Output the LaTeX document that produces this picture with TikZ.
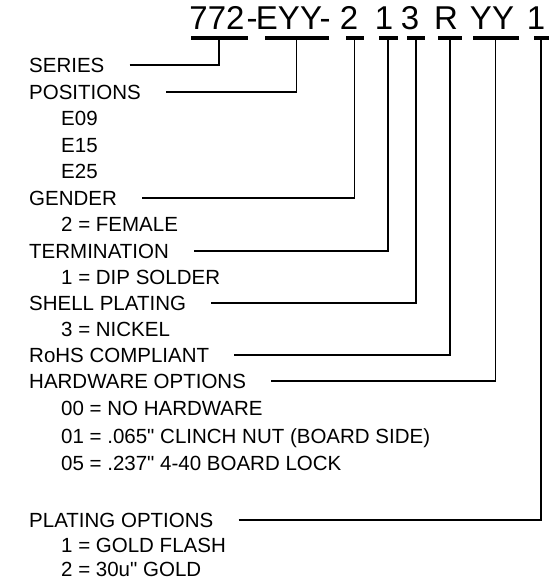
\documentclass[tikz,border=0pt]{standalone}
\usepackage{fontspec}
\newfontfamily\labfont{Liberation Sans}
\begin{document}
\begin{tikzpicture}[x=1pt,y=-1pt,
  lab/.style={anchor=base west,inner sep=0pt,font=\labfont\fontsize{20.5}{24}\selectfont},
  ttl/.style={anchor=base,inner sep=0pt,font=\labfont\fontsize{33}{36}\selectfont},
  bar/.style={fill=black,draw=none,inner sep=0pt,minimum height=4pt},
  conn/.style={line width=1.6pt}]
\useasboundingbox[fill=white] (0,0) rectangle (550,580);
% title
\node[ttl] (t772) at (217,29.5) {772};
\node[ttl] (h1)   at (252,29.5) {-};
\node[ttl] (tEYY) at (289,29.5) {EYY};
\node[ttl] (h2)   at (325,29.5) {-};
\node[ttl] (t2)   at (349,29.5) {2};
\node[ttl] (t1)   at (384,29.5) {1};
\node[ttl] (t3)   at (410,29.5) {3};
\node[ttl] (tR)   at (446,29.5) {R};
\node[ttl] (tYY)  at (492,29.5) {YY};
\node[ttl] (t1b)  at (536,29.5) {1};
% bars
\node[bar,minimum width=57pt] (b772) at (219,38) {};
\node[bar,minimum width=64pt] (bEYY) at (296.5,38) {};
\node[bar,minimum width=18pt] (b2)   at (354.5,38) {};
\node[bar,minimum width=19pt] (b1)   at (388,38) {};
\node[bar,minimum width=18pt] (b3)   at (416,38) {};
\node[bar,minimum width=24pt] (bR)   at (450,38) {};
\node[bar,minimum width=46pt] (bYY)  at (495.5,38) {};
\node[bar,minimum width=15pt] (b1b)  at (541,38) {};
% labels
\node[lab] (series) at (29,72.3) {SERIES};
\node[lab] (pos)    at (29,99.3) {POSITIONS};
\node[lab] (e09)    at (61,125.8) {E09};
\node[lab] (e15)    at (61,152.3) {E15};
\node[lab] (e25)    at (61,178.8) {E25};
\node[lab] (gender) at (29,205.3) {GENDER};
\node[lab] (fem)    at (61,231.3) {2 = FEMALE};
\node[lab] (term)   at (29,258.3) {TERMINATION};
\node[lab] (dip)    at (61,284.3) {1 = DIP SOLDER};
\node[lab] (shell)  at (29,310.3) {SHELL PLATING};
\node[lab] (nick)   at (61,336.3) {3 = NICKEL};
\node[lab] (rohs)   at (29,362.3) {RoHS COMPLIANT};
\node[lab] (hard)   at (29,388.3) {HARDWARE OPTIONS};
\node[lab] (h00)    at (61,415.3) {00 = NO HARDWARE};
\node[lab] (h01)    at (61,443.3) {01 = .065" CLINCH NUT (BOARD SIDE)};
\node[lab] (h05)    at (61,470.3) {05 = .237" 4-40 BOARD LOCK};
\node[lab] (plat)   at (29,527.3) {PLATING OPTIONS};
\node[lab] (p1)     at (61,552.5) {1 = GOLD FLASH};
\node[lab] (p2)     at (61,576.5) {2 = 30u" GOLD};
% connectors
\draw[conn] ([xshift=25pt]series.east) -| (b772.center);
\draw[conn] ([xshift=25pt]pos.east) -| (bEYY.center);
\draw[conn] ([xshift=25pt]gender.east) -| (b2.center);
\draw[conn] ([xshift=25pt]term.east) -| (b1.center);
\draw[conn] ([xshift=25pt]shell.east) -| (b3.center);
\draw[conn] ([xshift=25pt]rohs.east) -| (bR.center);
\draw[conn] ([xshift=25pt]hard.east) -| (bYY.center);
\draw[conn] ([xshift=25pt]plat.east) -| (b1b.center);
\end{tikzpicture}
\end{document}
